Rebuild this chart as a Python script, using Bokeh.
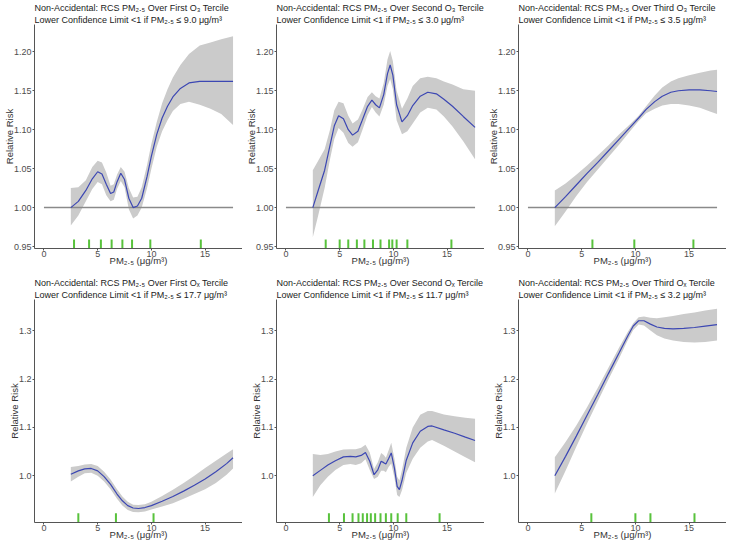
from bokeh.plotting import figure
from bokeh.models import Title, Range1d, FixedTicker, PrintfTickFormatter
from bokeh.layouts import gridplot
from bokeh.embed import file_html
from bokeh.resources import INLINE

# ---------------- data ----------------
x_ticks = [0, 5, 10, 15]
hline_x = [0, 17.6]

# Panel 1: first O3 tercile
p1_x = [2.5, 3.2, 3.9, 4.5, 5.0, 5.4, 5.8, 6.2, 6.5, 6.8, 7.15, 7.5, 7.9, 8.3, 8.7, 9.1, 9.6, 10.0,
        10.5, 11.0, 11.5, 12.0, 12.7, 13.5, 14.5, 15.5, 16.5, 17.6]
p1_fit = [1.000, 1.008, 1.022, 1.037, 1.046, 1.043, 1.030, 1.018, 1.020, 1.033, 1.044, 1.036, 1.012, 1.000,
          1.002, 1.012, 1.040, 1.066, 1.094, 1.115, 1.130, 1.142, 1.153, 1.160, 1.162, 1.162, 1.162, 1.162]
p1_hi = [1.025, 1.026, 1.035, 1.052, 1.060, 1.058, 1.045, 1.028, 1.030, 1.042, 1.052, 1.046, 1.025, 1.013,
         1.014, 1.026, 1.055, 1.082, 1.110, 1.134, 1.152, 1.167, 1.183, 1.197, 1.208, 1.212, 1.216, 1.220]
p1_lo = [0.977, 0.990, 1.008, 1.024, 1.033, 1.030, 1.016, 1.008, 1.010, 1.024, 1.034, 1.026, 0.998, 0.986,
         0.990, 1.000, 1.025, 1.050, 1.078, 1.098, 1.112, 1.124, 1.133, 1.136, 1.132, 1.127, 1.120, 1.106]
p1_rug = [2.8, 4.2, 5.3, 6.3, 7.3, 8.2, 9.9, 14.6]

# Panel 2: second O3 tercile
p2_x = [2.5, 3.0, 3.6, 4.1, 4.5, 4.9, 5.35, 5.8, 6.2, 6.7, 7.1, 7.6, 8.0, 8.35, 8.7, 9.1, 9.45, 9.7,
        9.95, 10.3, 10.8, 11.3, 11.8, 12.5, 13.2, 14.0, 14.7, 15.5, 16.5, 17.6]
p2_fit = [1.000, 1.022, 1.048, 1.080, 1.105, 1.118, 1.114, 1.100, 1.093, 1.098, 1.112, 1.130, 1.138, 1.132,
          1.128, 1.145, 1.172, 1.183, 1.170, 1.132, 1.110, 1.118, 1.131, 1.143, 1.148, 1.146, 1.139, 1.130,
          1.117, 1.103]
p2_hi = [1.048, 1.060, 1.075, 1.100, 1.125, 1.136, 1.134, 1.118, 1.108, 1.113, 1.125, 1.142, 1.148, 1.143,
         1.140, 1.160, 1.190, 1.201, 1.188, 1.150, 1.127, 1.140, 1.156, 1.166, 1.168, 1.166, 1.162, 1.158,
         1.152, 1.150]
p2_lo = [0.962, 0.990, 1.025, 1.062, 1.088, 1.102, 1.096, 1.083, 1.078, 1.084, 1.099, 1.119, 1.129, 1.122,
         1.117, 1.132, 1.156, 1.165, 1.152, 1.112, 1.094, 1.098, 1.108, 1.122, 1.128, 1.126, 1.117, 1.104,
         1.085, 1.062]
p2_rug = [3.7, 5.0, 5.8, 6.6, 7.3, 8.1, 8.8, 9.6, 9.9, 10.3, 11.3, 15.4]

# Panel 3: third O3 tercile
p3_x = [2.5, 3.5, 4.5, 5.5, 6.5, 7.5, 8.5, 9.5, 10.3, 11.0, 11.8, 12.5, 13.3, 14.0, 15.0, 16.0, 17.0, 17.6]
p3_fit = [1.000, 1.014, 1.029, 1.044, 1.058, 1.073, 1.088, 1.103, 1.115, 1.126, 1.136, 1.143, 1.148, 1.150,
          1.151, 1.151, 1.150, 1.149]
p3_hi = [1.022, 1.031, 1.042, 1.054, 1.067, 1.080, 1.094, 1.107, 1.118, 1.130, 1.144, 1.154, 1.162, 1.166,
         1.170, 1.173, 1.176, 1.177]
p3_lo = [0.976, 0.995, 1.015, 1.033, 1.049, 1.065, 1.081, 1.098, 1.111, 1.121, 1.127, 1.131, 1.133, 1.133,
         1.131, 1.128, 1.123, 1.120]
p3_rug = [6.0, 9.9, 15.4]

# Panel 4: first Ox tercile
p4_x = [2.5, 3.2, 3.8, 4.4, 5.0, 5.6, 6.2, 6.8, 7.3, 7.8, 8.3, 8.8, 9.4, 10.0, 11.0, 12.0, 13.0, 14.0,
        15.0, 16.0, 17.0, 17.6]
p4_fit = [1.003, 1.010, 1.014, 1.015, 1.010, 0.998, 0.982, 0.962, 0.948, 0.938, 0.933, 0.932, 0.934, 0.938,
          0.947, 0.957, 0.968, 0.980, 0.993, 1.008, 1.025, 1.037]
p4_hi = [1.018, 1.020, 1.023, 1.024, 1.020, 1.008, 0.992, 0.972, 0.957, 0.946, 0.940, 0.939, 0.941, 0.946,
         0.958, 0.971, 0.985, 1.000, 1.016, 1.031, 1.046, 1.055]
p4_lo = [0.988, 0.998, 1.005, 1.006, 1.000, 0.988, 0.972, 0.952, 0.938, 0.929, 0.925, 0.924, 0.926, 0.930,
         0.936, 0.943, 0.952, 0.962, 0.972, 0.985, 1.002, 1.015]
p4_rug = [3.2, 6.7, 10.2]

# Panel 5: second Ox tercile
p5_x = [2.5, 3.2, 3.9, 4.6, 5.35, 6.0, 6.5, 7.0, 7.4, 7.8, 8.2, 8.55, 8.86, 9.1, 9.3, 9.55, 9.8, 10.1,
        10.35, 10.56, 10.8, 11.2, 11.8, 12.5, 13.2, 13.6, 14.7, 15.7, 16.7, 17.6]
p5_fit = [1.000, 1.011, 1.022, 1.031, 1.039, 1.040, 1.039, 1.042, 1.048, 1.030, 1.002, 1.012, 1.030, 1.027,
          1.024, 1.035, 1.047, 1.015, 0.978, 0.971, 0.990, 1.032, 1.068, 1.092, 1.102, 1.103, 1.095, 1.088,
          1.080, 1.073]
p5_hi = [1.045, 1.043, 1.045, 1.050, 1.054, 1.055, 1.055, 1.058, 1.064, 1.048, 1.014, 1.028, 1.047, 1.043,
         1.037, 1.052, 1.068, 1.035, 0.998, 0.990, 1.012, 1.058, 1.100, 1.126, 1.134, 1.134, 1.127, 1.123,
         1.120, 1.118]
p5_lo = [0.956, 0.980, 0.998, 1.012, 1.022, 1.024, 1.022, 1.026, 1.034, 1.012, 0.993, 0.998, 1.010, 1.010,
         1.007, 1.018, 1.025, 0.995, 0.960, 0.956, 0.970, 1.006, 1.035, 1.058, 1.071, 1.074, 1.062, 1.050,
         1.038, 1.028]
p5_rug = [4.0, 5.4, 6.2, 6.75, 7.15, 7.55, 7.9, 8.3, 8.8, 9.3, 9.8, 10.4, 11.2, 14.3]

# Panel 6: third Ox tercile
p6_x = [2.5, 3.5, 4.5, 5.5, 6.5, 7.5, 8.5, 9.3, 9.8, 10.3, 10.8, 11.4, 12.0, 12.7, 13.5, 14.5, 15.5, 16.5, 17.6]
p6_fit = [1.000, 1.040, 1.082, 1.125, 1.168, 1.212, 1.255, 1.290, 1.310, 1.321, 1.321, 1.314, 1.308, 1.305,
          1.304, 1.305, 1.307, 1.310, 1.313]
p6_hi = [1.038, 1.070, 1.104, 1.142, 1.182, 1.224, 1.266, 1.298, 1.316, 1.328, 1.330, 1.327, 1.326, 1.328,
         1.331, 1.335, 1.338, 1.342, 1.346]
p6_lo = [0.963, 1.010, 1.060, 1.108, 1.154, 1.200, 1.244, 1.281, 1.302, 1.313, 1.311, 1.301, 1.291, 1.284,
         1.280, 1.277, 1.276, 1.277, 1.280]
p6_rug = [5.9, 10.0, 11.4, 15.5]

top_y_ticks = [0.95, 1.00, 1.05, 1.10, 1.15, 1.20]
bot_y_ticks = [1.0, 1.1, 1.2, 1.3]

titles = [
    ("Non-Accidental: RCS PM\u2082.\u2085 Over First O\u2083 Tercile",
     "Lower Confidence Limit <1 if PM\u2082.\u2085 \u2264 9.0 \u03bcg/m\u00b3"),
    ("Non-Accidental: RCS PM\u2082.\u2085 Over Second O\u2083 Tercile",
     "Lower Confidence Limit <1 if PM\u2082.\u2085 \u2264 3.0 \u03bcg/m\u00b3"),
    ("Non-Accidental: RCS PM\u2082.\u2085 Over Third O\u2083 Tercile",
     "Lower Confidence Limit <1 if PM\u2082.\u2085 \u2264 3.5 \u03bcg/m\u00b3"),
    ("Non-Accidental: RCS PM\u2082.\u2085 Over First O\u2093 Tercile",
     "Lower Confidence Limit <1 if PM\u2082.\u2085 \u2264 17.7 \u03bcg/m\u00b3"),
    ("Non-Accidental: RCS PM\u2082.\u2085 Over Second O\u2093 Tercile",
     "Lower Confidence Limit <1 if PM\u2082.\u2085 \u2264 11.7 \u03bcg/m\u00b3"),
    ("Non-Accidental: RCS PM\u2082.\u2085 Over Third O\u2093 Tercile",
     "Lower Confidence Limit <1 if PM\u2082.\u2085 \u2264 3.2 \u03bcg/m\u00b3"),
]
x_label = "PM\u2082.\u2085 (\u03bcg/m\u00b3)"
y_label = "Relative Risk"

# ---------------- styling ----------------
FONT = "Liberation Sans"
RIBBON = "#cbcbcb"
LINE = "#3c47b3"
RUG = "#58c23c"
HLINE = "#8a8a8a"
AXIS = "#555555"


def make_panel(t, xs, fit, lo, hi, rug, y_rng, y_ticks, y_fmt, hline, height, top_pad, frame_h):
    p = figure(width=242, height=height, output_backend="svg", toolbar_location=None,
               x_range=Range1d(-0.88, 18.48), y_range=Range1d(*y_rng),
               min_border_left=26, min_border_right=0, min_border_top=top_pad, min_border_bottom=0,
               background_fill_color="white", border_fill_color="white")
    p.outline_line_color = None
    p.grid.visible = False
    p.varea(x=xs, y1=lo, y2=hi, fill_color=RIBBON, fill_alpha=1.0)
    if hline:
        p.line(x=hline_x, y=[1.0, 1.0], line_color=HLINE, line_width=1.5)
    p.line(x=xs, y=fit, line_color=LINE, line_width=1.2)
    rh = (y_rng[1] - y_rng[0]) * 9.0 / frame_h
    p.segment(x0=rug, x1=rug, y0=[y_rng[0]] * len(rug), y1=[y_rng[0] + rh] * len(rug),
              line_color=RUG, line_width=2)

    for ax in (p.xaxis[0], p.yaxis[0]):
        ax.axis_line_color = AXIS
        ax.axis_line_width = 1
        ax.major_tick_line_color = AXIS
        ax.major_tick_out = 2
        ax.major_tick_in = 0
        ax.minor_tick_out = 0
        ax.minor_tick_in = 0
        ax.major_label_text_font = FONT
        ax.major_label_text_font_size = "9px"
        ax.major_label_text_color = "#4d4d4d"
        ax.major_label_text_line_height = 1.0
        ax.axis_label_text_font = FONT
        ax.axis_label_text_font_size = "9.5px"
        ax.axis_label_text_font_style = "normal"
        ax.axis_label_text_color = "#333333"
        ax.axis_label_text_line_height = 1.0
        ax.major_label_standoff = 1
    p.xaxis.major_label_standoff = 0
    p.xaxis.axis_label_standoff = -5
    p.yaxis.axis_label_standoff = -4
    p.xaxis.ticker = FixedTicker(ticks=x_ticks)
    p.yaxis.ticker = FixedTicker(ticks=y_ticks)
    p.yaxis.formatter = PrintfTickFormatter(format=y_fmt)
    p.xaxis.axis_label = x_label
    p.yaxis.axis_label = y_label

    p.title.visible = False
    for txt in (t[1], t[0]):
        p.add_layout(Title(text=txt, align="left", text_font=FONT, text_font_size="9px",
                           text_font_style="normal", text_color="#222222", standoff=0, offset=0),
                     "above")
    return p


top_rng = (0.9475, 1.235)
bot_rng = (0.903, 1.365)
TOP_H = 268
BOT_H = 274

panels = [
    make_panel(titles[0], p1_x, p1_fit, p1_lo, p1_hi, p1_rug, top_rng, top_y_ticks, "%.2f", True, TOP_H, 0, 222),
    make_panel(titles[1], p2_x, p2_fit, p2_lo, p2_hi, p2_rug, top_rng, top_y_ticks, "%.2f", True, TOP_H, 0, 222),
    make_panel(titles[2], p3_x, p3_fit, p3_lo, p3_hi, p3_rug, top_rng, top_y_ticks, "%.2f", True, TOP_H, 0, 222),
    make_panel(titles[3], p4_x, p4_fit, p4_lo, p4_hi, p4_rug, bot_rng, bot_y_ticks, "%.1f", False, BOT_H, 31, 217),
    make_panel(titles[4], p5_x, p5_fit, p5_lo, p5_hi, p5_rug, bot_rng, bot_y_ticks, "%.1f", False, BOT_H, 31, 217),
    make_panel(titles[5], p6_x, p6_fit, p6_lo, p6_hi, p6_rug, bot_rng, bot_y_ticks, "%.1f", False, BOT_H, 31, 217),
]

grid = gridplot([panels[0:3], panels[3:6]], toolbar_location=None)

open("out.html", "w").write(file_html(grid, INLINE))
